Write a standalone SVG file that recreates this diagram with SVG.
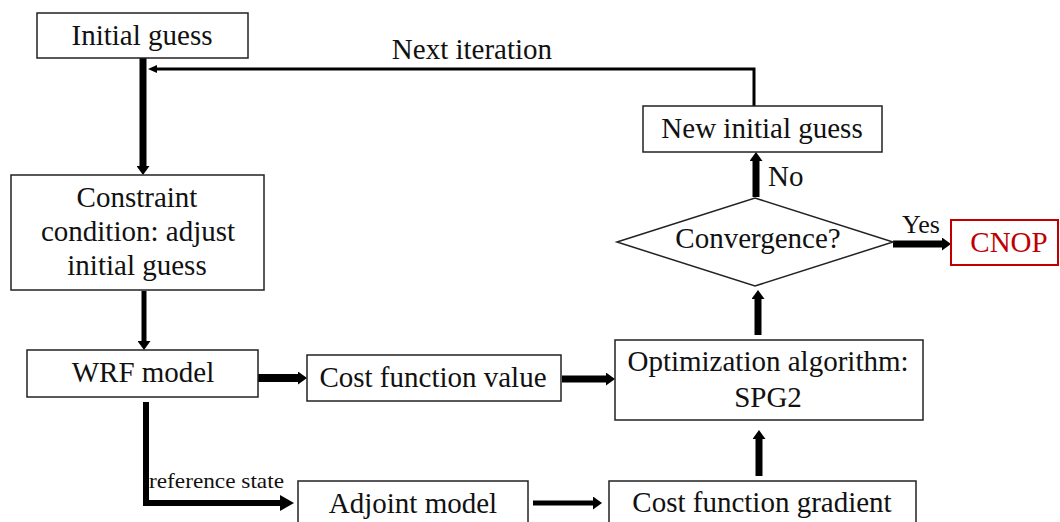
<svg xmlns="http://www.w3.org/2000/svg" width="1060" height="522" viewBox="0 0 1060 522">
<defs>
<style>
.box{fill:#fff;stroke:#222;stroke-width:1.5}
.t{font-family:"Liberation Serif","Times New Roman",serif;font-size:29px;fill:#111;text-anchor:middle}
.lbl{font-family:"Liberation Serif","Times New Roman",serif;fill:#111}
.c{fill:none;stroke:#000}
</style>
<marker id="ah" markerUnits="userSpaceOnUse" markerWidth="9" markerHeight="13" refX="0" refY="6.5" orient="auto"><path d="M0,0 L9,6.5 L0,13 z" fill="#000"/></marker>
<marker id="ahBig" markerUnits="userSpaceOnUse" markerWidth="14" markerHeight="16" refX="0" refY="8" orient="auto"><path d="M0,0 L14,8 L0,16 z" fill="#000"/></marker>
<marker id="ahThin" markerUnits="userSpaceOnUse" markerWidth="9" markerHeight="8" refX="0" refY="4" orient="auto"><path d="M0,0 L9,4 L0,8 z" fill="#000"/></marker>
</defs>
<rect width="1060" height="522" fill="#fff"/>

<g id="connectors">
<path class="c" d="M143,58 V166" stroke-width="7" marker-end="url(#ah)"/>
<path class="c" d="M144,291 V341" stroke-width="5" marker-end="url(#ah)"/>
<path class="c" d="M258,378 H298" stroke-width="8" marker-end="url(#ah)"/>
<path class="c" d="M562,379 H606" stroke-width="7" marker-end="url(#ah)"/>
<path class="c" d="M146,402 V503 H280" stroke-width="6" marker-end="url(#ahBig)"/>
<path class="c" d="M533,503 H593" stroke-width="5" marker-end="url(#ah)"/>
<path class="c" d="M759,476 V439" stroke-width="7" marker-end="url(#ah)"/>
<path class="c" d="M758,335 V299" stroke-width="7" marker-end="url(#ah)"/>
<path class="c" d="M756,197 V161" stroke-width="7" marker-end="url(#ah)"/>
<path class="c" d="M893,244 H942" stroke-width="7" marker-end="url(#ah)"/>
<path class="c" d="M754,106 V69 H157" stroke-width="3" marker-end="url(#ahThin)"/>
<text class="t" x="472" y="59">Next iteration</text>
<text class="lbl" x="768" y="186" font-size="29">No</text>
<text class="lbl" x="902" y="233" font-size="26">Yes</text>
<text class="lbl" x="149" y="488" font-size="21" textLength="135" lengthAdjust="spacingAndGlyphs">reference state</text>
</g>

<g id="initial-guess">
<rect class="box" x="37" y="13" width="211" height="45"/>
<text class="t" x="142" y="45">Initial guess</text>
</g>

<g id="constraint">
<rect class="box" x="11" y="175" width="253" height="115"/>
<text class="t" x="137" y="207">Constraint</text>
<text class="t" x="138" y="241">condition: adjust</text>
<text class="t" x="137" y="275">initial guess</text>
</g>

<g id="wrf-model">
<rect class="box" x="27" y="350" width="231" height="47"/>
<text class="t" x="143" y="382">WRF model</text>
</g>

<g id="cost-value">
<rect class="box" x="307" y="355" width="254" height="46"/>
<text class="t" x="433" y="387">Cost function value</text>
</g>

<g id="optimization">
<rect class="box" x="615" y="340" width="308" height="80"/>
<text class="t" x="768" y="371">Optimization algorithm:</text>
<text class="t" x="768" y="407">SPG2</text>
</g>

<g id="adjoint-model">
<rect class="box" x="298" y="481" width="230" height="50"/>
<text class="t" x="413" y="513">Adjoint model</text>
</g>

<g id="cost-gradient">
<rect class="box" x="609" y="481" width="307" height="50"/>
<text class="t" x="762" y="512">Cost function gradient</text>
</g>

<g id="convergence">
<polygon class="box" points="617,242 755,198 893,242 755,286"/>
<text class="t" x="758" y="248">Convergence?</text>
</g>

<g id="new-initial-guess">
<rect class="box" x="643" y="106" width="239" height="46"/>
<text class="t" x="762" y="138">New initial guess</text>
</g>

<g id="cnop">
<rect x="951" y="220" width="107" height="45" fill="#fff" stroke="#c00000" stroke-width="2"/>
<text class="t" x="1009" y="252" style="fill:#c00000">CNOP</text>
</g>
</svg>
